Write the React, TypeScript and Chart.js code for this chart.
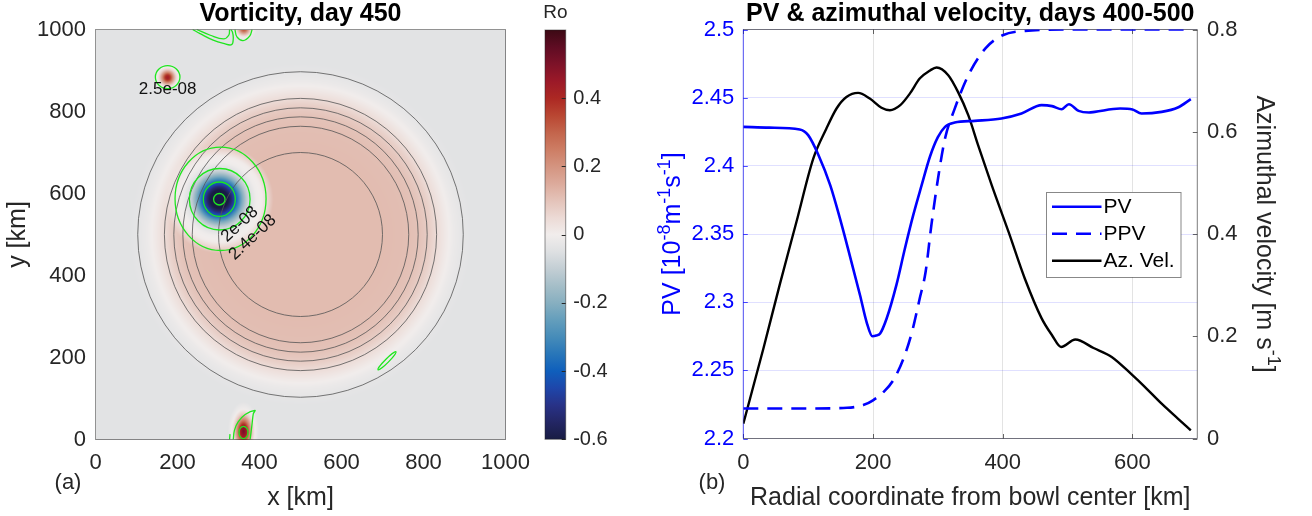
import React, { useEffect, useRef } from "react";
import { Chart, registerables } from "chart.js";
Chart.register(...registerables);

const W = 1312;
const H = 516;
const FONT = '"Liberation Sans", Arial, Helvetica, sans-serif';
const AXIS_GRAY = "#262626";
const BLUE = "#0000ff";
const GREEN = "#1fe61f";

// plot areas (pixels)
const A = { left: 95.5, right: 505.5, top: 29.5, bottom: 439.5 };
const CB = { left: 545, right: 565.7, top: 30, bottom: 439.3 };
const B = { left: 743.3, right: 1197.3, top: 29.5, bottom: 438.5 };

// ---------------- Panel (b) data ----------------
const pvRadius = [0, 40, 87, 100, 116, 134, 149, 164, 180, 190, 199, 205, 211, 221, 236, 249, 262, 275, 288, 300, 311, 326, 357, 398, 429, 460, 476, 491, 502, 517, 533, 542, 581, 600, 614, 645, 670, 690];
const pvValues = [2.4286, 2.428, 2.4267, 2.4225, 2.4078, 2.3858, 2.3614, 2.3345, 2.3051, 2.2856, 2.275, 2.2755, 2.277, 2.288, 2.3125, 2.339, 2.3638, 2.3858, 2.407, 2.421, 2.4286, 2.4318, 2.433, 2.4347, 2.4384, 2.4445, 2.4438, 2.4415, 2.4452, 2.4403, 2.4391, 2.4396, 2.442, 2.4413, 2.4384, 2.4396, 2.4428, 2.4489];
const ppvRadius = [0, 100, 160, 185, 200, 216, 231, 247, 260, 272, 281, 290, 301, 311, 326, 347, 373, 400, 434, 500, 600, 690];
const ppvValues = [2.222, 2.222, 2.2225, 2.2245, 2.228, 2.234, 2.2425, 2.2587, 2.278, 2.3027, 2.322, 2.3565, 2.3931, 2.42, 2.442, 2.4665, 2.486, 2.4958, 2.499, 2.5, 2.5, 2.5];
const velRadius = [0, 31, 56, 82, 108, 128, 144, 159, 177, 195, 213, 226, 242, 257, 272, 288, 298, 316, 331, 347, 362, 383, 409, 434, 460, 476, 490, 512, 540, 568, 600, 619, 645, 670, 690];
const velValues = [0.029, 0.176, 0.3, 0.424, 0.548, 0.606, 0.646, 0.668, 0.676, 0.665, 0.647, 0.642, 0.652, 0.675, 0.704, 0.72, 0.7257, 0.7106, 0.678, 0.632, 0.574, 0.4955, 0.404, 0.313, 0.235, 0.202, 0.179, 0.1936, 0.177, 0.1596, 0.1238, 0.101, 0.068, 0.039, 0.016];
const legendLabels = ["PV", "PPV", "Az. Vel."];

// ---------------- Panel (a) data ----------------
const bowlCenter = [500, 500];
const bowlContourRadii = [200, 264, 287, 309, 332, 397];
const bowlProfileR = [0, 200, 260, 290, 315, 335, 355, 375, 395, 420];
const bowlProfileRo = [0.115, 0.115, 0.11, 0.1, 0.075, 0.04, 0.01, -0.015, -0.03, -0.04];
const cycloneCenter = [302, 586];
const cycloneR = [0, 22, 30, 38, 46, 55, 65, 75, 90, 105, 118, 132];
const cycloneRo = [-0.6, -0.6, -0.53, -0.43, -0.33, -0.22, -0.12, -0.05, -0.005, 0.005, 0.005, 0];
const cycloneWeight = [1, 1, 1, 1, 1, 1, 1, 1, 1, 1, 0.5, 0];
const antiX = [176, 361, 362];
const antiY = [883, 20, 1002];
const antiRo = [0.45, 0.52, 0.35];
const antiRadius = [22, 24, 20];
const antiStretch = [1, 1.9, 1];
const antiShapeR = [0, 0.3, 0.6, 0.9, 1.2, 1.6];
const antiShapeW = [1, 0.85, 0.5, 0.22, 0.06, 0];

const greenEllX = [305, 303, 302, 302, 176, 361, 711];
const greenEllY = [587, 586, 586, 586, 884, 17, 192];
const greenEllRx = [111, 74, 39, 14, 30, 11, 31];
const greenEllRy = [126, 75, 42, 14, 28, 15, 4.5];
const greenEllAngle = [0, 0, 0, 0, 0, 0, 45];

const topOuterX = [237, 255, 287, 312, 332, 336, 334, 330];
const topOuterY = [1000, 990, 974, 966, 963, 978, 994, 1000];
const topInnerX = [247, 280, 312, 325, 327];
const topInnerY = [1000, 986, 977, 986, 1000];
const topEddyX = [340, 345, 360, 376, 382];
const topEddyY = [1000, 982, 973, 984, 1000];
const bottomTearX = [336, 339, 348, 365, 389, 385, 382, 379, 377];
const bottomTearY = [0, 23, 43, 61, 71, 63, 39, 15, 0];
const bottomStubX = [327, 328];
const bottomStubY = [0, 13];

const contourLabelText = ["2.5e-08", "2e-08", "2.4e-08"];
const contourLabelX = [176, 352, 383];
const contourLabelY = [854, 525, 493];
const contourLabelAngle = [0, -43, -43];

const cmapValues = [-0.6, -0.55, -0.5, -0.45, -0.4, -0.35, -0.3, -0.25, -0.2, -0.15, -0.1, -0.05, 0, 0.05, 0.1, 0.15, 0.2, 0.25, 0.3, 0.35, 0.4, 0.45, 0.5, 0.55, 0.6];
const cmapColors = ["#181c43", "#232664", "#283287", "#1e46aa", "#0f5fbc", "#2876b9", "#468cb9", "#649ebc", "#87afc0", "#a5bec8", "#c3ced4", "#dee0e2", "#f1edec", "#ecdad5", "#e4c3b9", "#dcaa9b", "#d49480", "#cd7d64", "#c3644b", "#b94632", "#ac2823", "#9b1928", "#7d1228", "#5f0c23", "#3c0914"];
const colorbarRange = [-0.6, 0.6];

// ---------------- helpers ----------------
function zip(xs: number[], ys: number[]) {
  return xs.map((x, i) => ({ x, y: ys[i] }));
}
function interp(xs: number[], ys: number[], v: number) {
  if (v <= xs[0]) return ys[0];
  for (let i = 1; i < xs.length; i++) {
    if (v <= xs[i]) {
      const t = (v - xs[i - 1]) / (xs[i] - xs[i - 1]);
      return ys[i - 1] + t * (ys[i] - ys[i - 1]);
    }
  }
  return ys[ys.length - 1];
}
function hexToRgb(h: string) {
  return [parseInt(h.slice(1, 3), 16), parseInt(h.slice(3, 5), 16), parseInt(h.slice(5, 7), 16)];
}
function roAt(x: number, y: number) {
  let v = interp(bowlProfileR, bowlProfileRo, Math.hypot(x - bowlCenter[0], y - bowlCenter[1]));
  const dc = Math.hypot(x - cycloneCenter[0], y - cycloneCenter[1]);
  const w = interp(cycloneR, cycloneWeight, dc);
  if (w > 0) v = v * (1 - w) + interp(cycloneR, cycloneRo, dc) * w;
  for (let k = 0; k < antiX.length; k++) {
    const d = Math.hypot((x - antiX[k]) / antiRadius[k], (y - antiY[k]) / (antiRadius[k] * antiStretch[k]));
    const s = interp(antiShapeR, antiShapeW, d);
    if (s > 0) v = v * (1 - s) + antiRo[k] * s;
  }
  return v;
}
function colorFor(v: number, pal: number[][]) {
  const n = cmapValues.length;
  if (v <= cmapValues[0]) return pal[0];
  if (v >= cmapValues[n - 1]) return pal[n - 1];
  for (let i = 1; i < n; i++) {
    if (v <= cmapValues[i]) {
      const t = (v - cmapValues[i - 1]) / (cmapValues[i] - cmapValues[i - 1]);
      const a = pal[i - 1], b = pal[i];
      return [a[0] + t * (b[0] - a[0]), a[1] + t * (b[1] - a[1]), a[2] + t * (b[2] - a[2])];
    }
  }
  return pal[n - 1];
}
type Seg = { t: string; sup?: boolean };
function drawRich(ctx: CanvasRenderingContext2D, segs: Seg[], x: number, y: number, rot: number, size: number, color: string, weight = "normal") {
  ctx.save();
  ctx.translate(x, y);
  ctx.rotate(rot);
  const fm = `${weight} ${size}px ${FONT}`;
  const fs = `${weight} ${Math.round(size * 0.72)}px ${FONT}`;
  const widths = segs.map((s) => {
    ctx.font = s.sup ? fs : fm;
    return ctx.measureText(s.t).width;
  });
  const total = widths.reduce((a, b) => a + b, 0);
  let cx = -total / 2;
  ctx.fillStyle = color;
  ctx.textAlign = "left";
  ctx.textBaseline = "alphabetic";
  segs.forEach((s, i) => {
    ctx.font = s.sup ? fs : fm;
    ctx.fillText(s.t, cx, s.sup ? -size * 0.42 : 0);
    cx += widths[i];
  });
  ctx.restore();
}
function fmt(v: number) {
  const r = Math.round(v * 100) / 100;
  return String(r === 0 ? 0 : r);
}

const tickFont = { family: FONT, size: 22 };

// ---------------- Panel (a) plugin ----------------
const vorticityPlugin = {
  id: "vorticity",
  beforeDatasetsDraw(chart: any) {
    const { ctx, chartArea: a } = chart;
    const xs = chart.scales.x, ys = chart.scales.y;
    const w = Math.round(a.right - a.left), h = Math.round(a.bottom - a.top);
    const off = document.createElement("canvas");
    off.width = w;
    off.height = h;
    const octx = off.getContext("2d")!;
    const img = octx.createImageData(w, h);
    const pal = cmapColors.map(hexToRgb);
    for (let j = 0; j < h; j++) {
      const yk = ys.getValueForPixel(a.top + ((j + 0.5) * (a.bottom - a.top)) / h);
      for (let i = 0; i < w; i++) {
        const xk = xs.getValueForPixel(a.left + ((i + 0.5) * (a.right - a.left)) / w);
        const c = colorFor(roAt(xk, yk), pal);
        const k = (j * w + i) * 4;
        img.data[k] = c[0];
        img.data[k + 1] = c[1];
        img.data[k + 2] = c[2];
        img.data[k + 3] = 255;
      }
    }
    octx.putImageData(img, 0, 0);
    ctx.drawImage(off, a.left, a.top, a.right - a.left, a.bottom - a.top);

    const kx = Math.abs(xs.getPixelForValue(1) - xs.getPixelForValue(0));
    const ky = Math.abs(ys.getPixelForValue(1) - ys.getPixelForValue(0));
    ctx.save();
    ctx.beginPath();
    ctx.rect(a.left, a.top, a.right - a.left, a.bottom - a.top);
    ctx.clip();
    ctx.strokeStyle = "rgba(85,85,85,0.8)";
    ctx.lineWidth = 1;
    for (const r of bowlContourRadii) {
      ctx.beginPath();
      ctx.ellipse(xs.getPixelForValue(bowlCenter[0]), ys.getPixelForValue(bowlCenter[1]), r * kx, r * ky, 0, 0, Math.PI * 2);
      ctx.stroke();
    }
    ctx.strokeStyle = GREEN;
    ctx.lineWidth = 1.3;
    for (let i = 0; i < greenEllX.length; i++) {
      ctx.beginPath();
      ctx.ellipse(xs.getPixelForValue(greenEllX[i]), ys.getPixelForValue(greenEllY[i]), greenEllRx[i] * kx, greenEllRy[i] * ky, (-greenEllAngle[i] * Math.PI) / 180, 0, Math.PI * 2);
      ctx.stroke();
    }
    ctx.restore();
  },
  afterDatasetsDraw(chart: any) {
    const { ctx, chartArea: a } = chart;
    const xs = chart.scales.x, ys = chart.scales.y;
    ctx.save();
    ctx.fillStyle = "#111";
    ctx.font = `17px ${FONT}`;
    ctx.textAlign = "center";
    ctx.textBaseline = "middle";
    for (let i = 0; i < contourLabelText.length; i++) {
      ctx.save();
      ctx.translate(xs.getPixelForValue(contourLabelX[i]), ys.getPixelForValue(contourLabelY[i]));
      ctx.rotate((contourLabelAngle[i] * Math.PI) / 180);
      ctx.fillText(contourLabelText[i], 0, 0);
      ctx.restore();
    }
    ctx.strokeStyle = "rgba(38,38,38,0.5)";
    ctx.lineWidth = 1;
    ctx.strokeRect(a.left, a.top, a.right - a.left, a.bottom - a.top);
    ctx.restore();
  },
  afterDraw(chart: any) {
    const ctx: CanvasRenderingContext2D = chart.ctx;
    const a = chart.chartArea;
    const cx = (a.left + a.right) / 2;
    ctx.save();
    ctx.fillStyle = "#000";
    ctx.font = `bold 25px ${FONT}`;
    ctx.textAlign = "center";
    ctx.textBaseline = "alphabetic";
    ctx.fillText("Vorticity, day 450", cx, 21);
    ctx.restore();
    drawRich(ctx, [{ t: "x [km]" }], cx, 505, 0, 25, AXIS_GRAY);
    drawRich(ctx, [{ t: "y [km]" }], 24.5, (a.top + a.bottom) / 2, -Math.PI / 2, 25, AXIS_GRAY);
    drawRich(ctx, [{ t: "(a)" }], 68, 489, 0, 22, AXIS_GRAY);
  },
};

// ---------------- Colorbar plugin ----------------
const colorbarPlugin = {
  id: "colorbarDeco",
  afterDatasetsDraw(chart: any) {
    const { ctx, chartArea: a } = chart;
    const ys = chart.scales.y;
    ctx.save();
    ctx.strokeStyle = AXIS_GRAY;
    ctx.lineWidth = 1;
    for (const t of ys.ticks) {
      if (t.value > 0.55) continue;
      const p = Math.round(ys.getPixelForValue(t.value)) + 0.5;
      ctx.beginPath();
      ctx.moveTo(a.right - 4, p);
      ctx.lineTo(a.right, p);
      ctx.stroke();
    }
    ctx.strokeStyle = "rgba(38,38,38,0.5)";
    ctx.strokeRect(a.left, a.top, a.right - a.left, a.bottom - a.top);
    ctx.restore();
    drawRich(ctx, [{ t: "Ro" }], (a.left + a.right) / 2, 17.5, 0, 19, AXIS_GRAY);
  },
};

// ---------------- Panel (b) plugin ----------------
const profilePlugin = {
  id: "profileDeco",
  beforeDatasetsDraw(chart: any) {
    const { ctx, chartArea: a } = chart;
    const xs = chart.scales.x, ys = chart.scales.y, y1 = chart.scales.y1;
    ctx.save();
    ctx.lineWidth = 1;
    ctx.strokeStyle = "rgba(38,38,38,0.7)";
    for (const t of xs.ticks) {
      const p = Math.round(xs.getPixelForValue(t.value)) + 0.5;
      ctx.beginPath();
      ctx.moveTo(p, a.bottom);
      ctx.lineTo(p, a.bottom - 4.5);
      ctx.moveTo(p, a.top);
      ctx.lineTo(p, a.top + 4.5);
      ctx.stroke();
    }
    for (const t of y1.ticks) {
      const p = Math.round(y1.getPixelForValue(t.value)) + 0.5;
      ctx.beginPath();
      ctx.moveTo(a.right, p);
      ctx.lineTo(a.right - 4.5, p);
      ctx.stroke();
    }
    ctx.strokeStyle = "rgba(0,0,255,0.7)";
    for (const t of ys.ticks) {
      const p = Math.round(ys.getPixelForValue(t.value)) + 0.5;
      ctx.beginPath();
      ctx.moveTo(a.left, p);
      ctx.lineTo(a.left + 4.5, p);
      ctx.stroke();
    }
    ctx.strokeStyle = "rgba(38,38,38,0.6)";
    ctx.beginPath();
    ctx.moveTo(a.left, a.top);
    ctx.lineTo(a.right, a.top);
    ctx.lineTo(a.right, a.bottom);
    ctx.lineTo(a.left, a.bottom);
    ctx.stroke();
    ctx.strokeStyle = "rgba(0,0,255,0.65)";
    ctx.beginPath();
    ctx.moveTo(a.left, a.top);
    ctx.lineTo(a.left, a.bottom);
    ctx.stroke();
    ctx.restore();
  },
  afterDraw(chart: any) {
    const ctx: CanvasRenderingContext2D = chart.ctx;
    const a = chart.chartArea;
    const cx = (a.left + a.right) / 2;
    const cy = (a.top + a.bottom) / 2;
    ctx.save();
    const lx = 1046.5, ly = 192, lw = 134.5, lh = 85;
    ctx.fillStyle = "#fff";
    ctx.fillRect(lx, ly, lw, lh);
    ctx.strokeStyle = "rgba(38,38,38,0.55)";
    ctx.lineWidth = 1;
    ctx.strokeRect(lx, ly + 0.5, lw, lh);
    chart.data.datasets.forEach((ds: any, i: number) => {
      const yy = 206.7 + i * 27;
      ctx.strokeStyle = ds.borderColor;
      ctx.lineWidth = ds.borderWidth;
      ctx.setLineDash(ds.borderDash || []);
      ctx.beginPath();
      ctx.moveTo(1052, yy);
      ctx.lineTo(1101.5, yy);
      ctx.stroke();
      ctx.setLineDash([]);
      ctx.fillStyle = "#000";
      ctx.font = `21px ${FONT}`;
      ctx.textAlign = "left";
      ctx.textBaseline = "middle";
      ctx.fillText(legendLabels[i], 1103.5, yy + 0.5);
    });
    ctx.fillStyle = "#000";
    ctx.font = `bold 25px ${FONT}`;
    ctx.textAlign = "center";
    ctx.textBaseline = "alphabetic";
    ctx.fillText("PV & azimuthal velocity, days 400-500", cx, 21);
    ctx.restore();
    drawRich(ctx, [{ t: "Radial coordinate from bowl center [km]" }], cx, 505, 0, 25, AXIS_GRAY);
    drawRich(ctx, [{ t: "(b)" }], 712, 489, 0, 22, AXIS_GRAY);
    drawRich(
      ctx,
      [{ t: "PV [10" }, { t: "-8", sup: true }, { t: "m" }, { t: "-1", sup: true }, { t: "s" }, { t: "-1", sup: true }, { t: "]" }],
      680,
      cy,
      -Math.PI / 2,
      25,
      BLUE
    );
    drawRich(ctx, [{ t: "Azimuthal velocity [m s" }, { t: "-1", sup: true }, { t: "]" }], 1257, cy, Math.PI / 2, 25, AXIS_GRAY);
  },
};

function leftConfig(): any {
  const curves = [
    [topOuterX, topOuterY],
    [topInnerX, topInnerY],
    [topEddyX, topEddyY],
    [bottomTearX, bottomTearY],
    [bottomStubX, bottomStubY],
  ];
  return {
    type: "line",
    data: {
      datasets: curves.map(([cx, cy]) => ({
        data: zip(cx, cy),
        borderColor: GREEN,
        borderWidth: 1.3,
        pointRadius: 0,
        tension: 0.4,
        fill: false,
      })),
    },
    options: {
      responsive: false,
      animation: false,
      devicePixelRatio: 1,
      events: [],
      layout: { padding: { left: 0, top: A.top, right: W - A.right, bottom: 0 } },
      plugins: { legend: { display: false }, tooltip: { enabled: false }, title: { display: false } },
      scales: {
        x: {
          type: "linear",
          min: 0,
          max: 1000,
          ticks: { stepSize: 200, font: tickFont, color: AXIS_GRAY, padding: 10.5, maxRotation: 0, autoSkip: false, includeBounds: false, callback: (v: number) => fmt(v) },
          grid: { display: false, drawTicks: false },
          border: { display: false },
          afterFit: (s: any) => {
            s.height = H - A.bottom;
          },
        },
        y: {
          type: "linear",
          min: 0,
          max: 1000,
          ticks: { stepSize: 200, font: tickFont, color: AXIS_GRAY, padding: 9.5, autoSkip: false, includeBounds: false, callback: (v: number) => fmt(v) },
          grid: { display: false, drawTicks: false },
          border: { display: false },
          afterFit: (s: any) => {
            s.width = A.left;
          },
        },
      },
    },
    plugins: [vorticityPlugin],
  };
}

function colorbarConfig(): any {
  return {
    type: "bar",
    data: {
      labels: ["Ro"],
      datasets: [
        {
          data: [colorbarRange],
          barPercentage: 1,
          categoryPercentage: 1,
          borderWidth: 0,
          backgroundColor: (c: any) => {
            const chart = c.chart;
            const ys = chart.scales && chart.scales.y;
            if (!ys || !chart.chartArea) return "#ccc";
            const v0 = cmapValues[0], v1 = cmapValues[cmapValues.length - 1];
            const g = chart.ctx.createLinearGradient(0, ys.getPixelForValue(v0), 0, ys.getPixelForValue(v1));
            cmapValues.forEach((v, i) => g.addColorStop((v - v0) / (v1 - v0), cmapColors[i]));
            return g;
          },
        },
      ],
    },
    options: {
      responsive: false,
      animation: false,
      devicePixelRatio: 1,
      events: [],
      layout: { padding: { left: CB.left, top: CB.top, right: 0, bottom: H - CB.bottom } },
      plugins: { legend: { display: false }, tooltip: { enabled: false } },
      scales: {
        x: { display: false },
        y: {
          position: "right",
          min: -0.6,
          max: 0.6,
          ticks: {
            stepSize: 0.2,
            font: { family: FONT, size: 20 },
            color: AXIS_GRAY,
            padding: 7.5,
            autoSkip: false,
            callback: (v: number) => (v > 0.55 ? "" : String(Math.round(v * 10) / 10 === 0 ? 0 : Math.round(v * 10) / 10)),
          },
          grid: { display: false, drawTicks: false },
          border: { display: false },
          afterFit: (s: any) => {
            s.width = W - CB.right;
          },
        },
      },
    },
    plugins: [colorbarPlugin],
  };
}

function rightConfig(): any {
  const common = { pointRadius: 0, fill: false, cubicInterpolationMode: "monotone" };
  return {
    type: "line",
    data: {
      datasets: [
        { label: legendLabels[0], data: zip(pvRadius, pvValues), yAxisID: "y", borderColor: BLUE, borderWidth: 2.6, ...common },
        { label: legendLabels[1], data: zip(ppvRadius, ppvValues), yAxisID: "y", borderColor: BLUE, borderWidth: 2.6, borderDash: [15, 9], ...common },
        { label: legendLabels[2], data: zip(velRadius, velValues), yAxisID: "y1", borderColor: "#000", borderWidth: 2.4, ...common },
      ],
    },
    options: {
      responsive: false,
      animation: false,
      devicePixelRatio: 1,
      events: [],
      layout: { padding: { left: 0, top: B.top, right: 0, bottom: 0 } },
      plugins: { legend: { display: false }, tooltip: { enabled: false } },
      scales: {
        x: {
          type: "linear",
          min: 0,
          max: 700,
          ticks: { stepSize: 200, font: tickFont, color: AXIS_GRAY, padding: 11.3, maxRotation: 0, autoSkip: false, includeBounds: false, callback: (v: number) => fmt(v) },
          grid: { color: "rgba(38,38,38,0.13)", drawTicks: false },
          border: { display: false },
          afterFit: (s: any) => {
            s.height = H - B.bottom;
          },
        },
        y: {
          type: "linear",
          position: "left",
          min: 2.2,
          max: 2.5,
          ticks: { stepSize: 0.05, font: tickFont, color: BLUE, padding: 9, autoSkip: false, includeBounds: false, callback: (v: number) => fmt(v) },
          grid: { color: "rgba(0,0,255,0.12)", drawTicks: false },
          border: { display: false },
          afterFit: (s: any) => {
            s.width = B.left;
          },
        },
        y1: {
          type: "linear",
          position: "right",
          min: 0,
          max: 0.8,
          ticks: { stepSize: 0.2, font: tickFont, color: AXIS_GRAY, padding: 9.7, autoSkip: false, includeBounds: false, callback: (v: number) => fmt(v) },
          grid: { display: false, drawTicks: false },
          border: { display: false },
          afterFit: (s: any) => {
            s.width = W - B.right;
          },
        },
      },
    },
    plugins: [profilePlugin],
  };
}

export default function App() {
  const aRef = useRef<HTMLCanvasElement>(null);
  const cRef = useRef<HTMLCanvasElement>(null);
  const bRef = useRef<HTMLCanvasElement>(null);
  useEffect(() => {
    const charts: Chart[] = [];
    if (aRef.current) charts.push(new Chart(aRef.current, leftConfig()));
    if (cRef.current) charts.push(new Chart(cRef.current, colorbarConfig()));
    if (bRef.current) charts.push(new Chart(bRef.current, rightConfig()));
    return () => charts.forEach((c) => c.destroy());
  }, []);
  const cs: React.CSSProperties = { position: "absolute", left: 0, top: 0, width: W, height: H };
  return (
    <div style={{ position: "absolute", left: 0, top: 0, width: W, height: H, background: "#fff", overflow: "hidden" }}>
      <canvas ref={aRef} width={W} height={H} style={cs} />
      <canvas ref={cRef} width={W} height={H} style={cs} />
      <canvas ref={bRef} width={W} height={H} style={cs} />
    </div>
  );
}
